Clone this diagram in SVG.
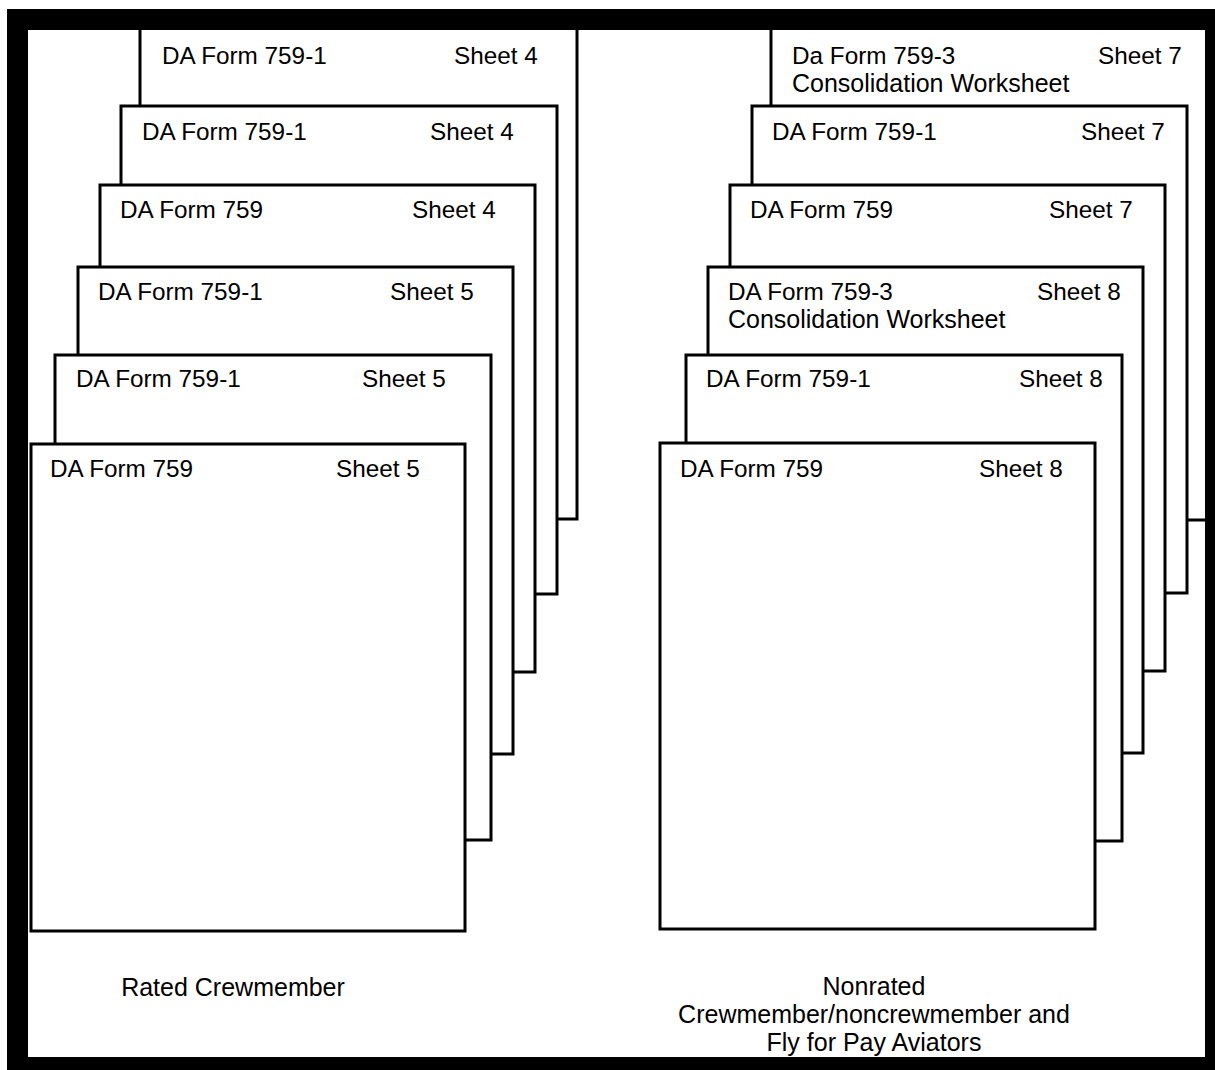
<svg xmlns="http://www.w3.org/2000/svg" width="1215" height="1070" viewBox="0 0 1215 1070">
<style>
.page{fill:#fff;stroke:#000;stroke-width:3}
text{font-family:"Liberation Sans",Arial,sans-serif;font-size:24.3px;fill:#000}
.w{font-size:25px}
.c{text-anchor:middle;font-size:25px}
</style>
<rect x="0" y="0" width="1215" height="1070" fill="#fff"/>
<g id="rated-stack">
<g id="L1"><rect class="page" x="140" y="20" width="437" height="499"/><text x="162" y="64">DA Form 759-1</text><text x="454" y="64">Sheet 4</text></g>
<g id="L2"><rect class="page" x="121" y="106" width="436" height="488"/><text x="142" y="140">DA Form 759-1</text><text x="430" y="140">Sheet 4</text></g>
<g id="L3"><rect class="page" x="100" y="185" width="435" height="487"/><text x="120" y="218">DA Form 759</text><text x="412" y="218">Sheet 4</text></g>
<g id="L4"><rect class="page" x="78" y="267" width="435" height="487"/><text x="98" y="300">DA Form 759-1</text><text x="390" y="300">Sheet 5</text></g>
<g id="L5"><rect class="page" x="55" y="355" width="436" height="485"/><text x="76" y="387">DA Form 759-1</text><text x="362" y="387">Sheet 5</text></g>
<g id="L6"><rect class="page" x="31" y="444" width="434" height="487"/><text x="50" y="477">DA Form 759</text><text x="336" y="477">Sheet 5</text></g>
</g>
<g id="nonrated-stack">
<g id="R1"><rect class="page" x="771" y="20" width="445" height="500"/><text x="792" y="64">Da Form 759-3</text><text class="w" x="792" y="92">Consolidation Worksheet</text><text x="1098" y="64">Sheet 7</text></g>
<g id="R2"><rect class="page" x="752" y="106" width="435" height="487"/><text x="772" y="140">DA Form 759-1</text><text x="1081" y="140">Sheet 7</text></g>
<g id="R3"><rect class="page" x="730" y="185" width="435" height="486"/><text x="750" y="218">DA Form 759</text><text x="1049" y="218">Sheet 7</text></g>
<g id="R4"><rect class="page" x="708" y="267" width="435" height="486"/><text x="728" y="300">DA Form 759-3</text><text class="w" x="728" y="328">Consolidation Worksheet</text><text x="1037" y="300">Sheet 8</text></g>
<g id="R5"><rect class="page" x="686" y="355" width="436" height="486"/><text x="706" y="387">DA Form 759-1</text><text x="1019" y="387">Sheet 8</text></g>
<g id="R6"><rect class="page" x="660" y="443" width="435" height="486"/><text x="680" y="477">DA Form 759</text><text x="979" y="477">Sheet 8</text></g>
</g>
<g id="labels">
<text x="233" y="996" class="c">Rated Crewmember</text>
<text x="874" y="995" class="c">Nonrated</text>
<text x="874" y="1023" class="c">Crewmember/noncrewmember and</text>
<text x="874" y="1051" class="c">Fly for Pay Aviators</text>
</g>
<path id="frame" fill="#000" fill-rule="evenodd" d="M7 9H1215V1070H7Z M28 30V1057H1205V30Z"/>
</svg>
